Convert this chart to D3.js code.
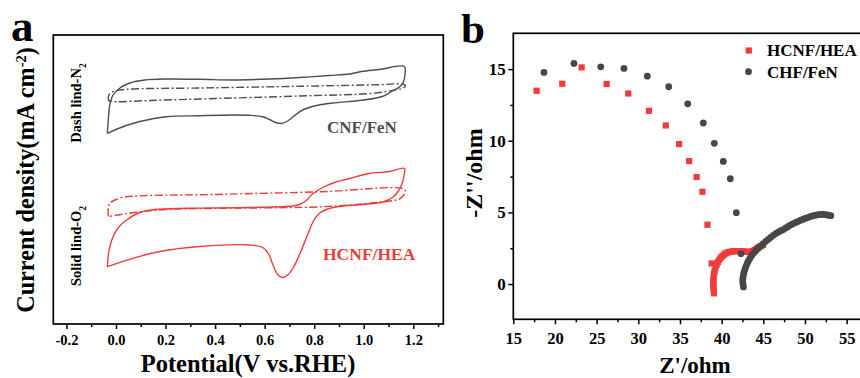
<!DOCTYPE html>
<html><head><meta charset="utf-8">
<script src="https://cdn.jsdelivr.net/npm/d3@7/dist/d3.min.js"></script>
<style>
body{margin:0;background:#fff;}
svg{display:block;}
text{font-family:"Liberation Serif","Times New Roman",serif;font-weight:bold;}
</style></head>
<body><svg id="c" width="860" height="378"></svg>
<script>
// ---------- Panel a: CV curves (potential V vs. RHE, current density in arbitrary units) ----------
const cvTicks = [-0.2, 0.0, 0.2, 0.4, 0.6, 0.8, 1.0, 1.2];
const cvMinor = [-0.1, 0.1, 0.3, 0.5, 0.7, 0.9, 1.1, 1.3];
const cnfO2 = [[-0.035,19.07],[-0.031,20.4],[-0.025,21.9],[-0.012,22.9],[0.016,23.6],[0.056,24.1],[0.116,24.4],[0.204,24.5],[0.338,24.47],[0.471,24.4],[0.620,24.5],[0.741,24.65],[0.862,24.85],[0.942,25.0],[0.991,25.25],[1.063,25.45],[1.164,25.75],[1.166,24.9],[1.160,24.2],[1.144,23.7],[1.112,23.25],[1.075,22.75],[0.983,22.35],[0.874,22.1],[0.801,21.8],[0.753,21.4],[0.721,20.85],[0.693,20.3],[0.668,20.05],[0.644,20.15],[0.620,20.45],[0.592,20.73],[0.539,20.87],[0.471,20.9],[0.338,20.83],[0.204,20.73],[0.096,20.25],[0.036,19.8],[-0.035,19.07]];
const cnfN2 = [[-0.029,22.3],[-0.031,22.7],[-0.025,23.05],[-0.004,23.3],[0.044,23.47],[0.338,23.6],[0.741,23.77],[1.063,23.93],[1.156,24.0],[1.168,23.85],[1.160,23.6],[1.136,23.45],[1.035,23.07],[0.741,22.8],[0.338,22.5],[0.137,22.35],[0.003,22.23],[-0.029,22.3]];
const heaO2 = [[-0.035,5.73],[-0.029,7.2],[-0.017,8.4],[0.008,9.6],[0.043,10.4],[0.096,11.15],[0.157,11.45],[0.298,11.57],[0.539,11.65],[0.713,11.8],[0.741,11.95],[0.768,12.35],[0.793,13.0],[0.834,13.65],[0.882,14.15],[0.942,14.55],[1.023,15.05],[1.104,15.25],[1.164,15.55],[1.162,14.8],[1.157,14.2],[1.140,13.3],[1.116,12.65],[1.077,12.2],[0.995,11.95],[0.902,11.75],[0.854,11.5],[0.822,11.1],[0.797,10.3],[0.773,8.9],[0.745,7.2],[0.717,5.7],[0.693,4.9],[0.672,4.65],[0.652,4.95],[0.632,6.0],[0.616,7.0],[0.592,7.65],[0.539,7.9],[0.338,7.75],[0.177,7.25],[0.068,6.57],[-0.035,5.73]];
const heaN2 = [[-0.031,10.75],[-0.031,11.6],[-0.025,12.05],[0.000,12.45],[0.036,12.7],[0.432,12.97],[0.835,13.23],[1.157,13.55],[1.168,13.3],[1.160,12.85],[1.144,12.5],[1.050,12.15],[0.835,11.73],[0.432,11.57],[0.204,11.45],[0.076,11.15],[-0.004,10.85],[-0.031,10.75]];

// ---------- Panel b: Nyquist plots ----------
const eisXTicks = [15, 20, 25, 30, 35, 40, 45, 50, 55];
const eisXMinor = [17.5, 22.5, 27.5, 32.5, 37.5, 42.5, 47.5, 52.5];
const eisYTicks = [0, 5, 10, 15];
const eisYMinor = [2.5, 7.5, 12.5];
const heaEIS = [[17.8,13.49],[20.88,13.98],[23.2,15.12],[26.2,13.96],[28.8,13.3],[31.28,12.09],[33.3,11.07],[34.9,9.77],[36.1,8.58],[37.0,7.47],[37.7,6.44],[38.3,4.14],[38.8,1.44],
 [39.08,-0.65],[39.05,-0.45],[39.02,-0.25],[39.0,-0.05],[39.0,0.15],[39.02,0.35],[39.05,0.55],[39.1,0.75],[39.17,0.95],[39.27,1.15],[39.4,1.35],[39.55,1.53],[39.72,1.7],[39.9,1.84],[40.1,1.96],[40.3,2.06],[40.5,2.14],[40.72,2.2],[40.95,2.24],[41.2,2.27],[41.45,2.29],[41.7,2.3],[41.95,2.3],[42.2,2.3],[42.45,2.29],[42.7,2.27],[42.95,2.25],[43.2,2.24],[43.45,2.25],[43.7,2.3],[43.95,2.38],[44.2,2.48],[44.45,2.58],[44.7,2.65],[44.95,2.72]];
const fenEIS = [[18.68,14.77],[22.28,15.4],[25.49,15.16],[28.28,15.05],[31.08,14.51],[33.65,13.77],[35.93,12.58],[37.8,11.24],[39.12,9.82],[40.2,8.56],[41.04,7.35],[41.76,4.98],[42.32,2.12],
 [42.62,-0.2],[42.56,0.0],[42.53,0.2],[42.55,0.4],[42.6,0.6],[42.68,0.8],[42.78,1.0],[42.9,1.2],[43.05,1.42],[43.2,1.6],[43.4,1.8],[43.6,1.98],[43.85,2.17],[44.1,2.33],[44.4,2.5],[44.7,2.66],[45.0,2.82],[45.3,2.98],[45.6,3.12],[45.9,3.26],[46.2,3.4],[46.5,3.52],[46.8,3.63],[47.1,3.72],[47.4,3.8],[47.7,3.92],[48.0,4.02],[48.3,4.13],[48.6,4.22],[48.9,4.3],[49.2,4.38],[49.5,4.46],[49.8,4.53],[50.1,4.6],[50.4,4.66],[50.7,4.72],[51.0,4.77],[51.3,4.81],[51.6,4.84],[51.9,4.86],[52.2,4.86],[52.5,4.84],[52.8,4.8],[53.1,4.77]];

const RED = "#ef3b3b", GREY = "#4e4e4e", GREYM = "#474747";
const svg = d3.select("#c");

// ===== Panel a =====
const ax = d3.scaleLinear().domain([-0.253, 1.321]).range([53.3, 443.3]);
const ay = d3.scaleLinear().domain([0, 28.9]).range([324, 35]);
const ga = svg.append("g");
ga.append("rect").attr("x",53.3).attr("y",35).attr("width",390).attr("height",289)
  .attr("fill","none").attr("stroke","#000").attr("stroke-width",1.7);
const line = d3.line().x(d=>ax(d[0])).y(d=>ay(d[1])).curve(d3.curveCatmullRom.alpha(0.5));
const dash = "8,2.5,2,2.5";
ga.append("path").attr("d",line(cnfO2)).attr("fill","none").attr("stroke",GREY).attr("stroke-width",1.4);
ga.append("path").attr("d",line(cnfN2)).attr("fill","none").attr("stroke",GREY).attr("stroke-width",1.4).attr("stroke-dasharray",dash);
ga.append("path").attr("d",line(heaO2)).attr("fill","none").attr("stroke",RED).attr("stroke-width",1.4);
ga.append("path").attr("d",line(heaN2)).attr("fill","none").attr("stroke",RED).attr("stroke-width",1.4).attr("stroke-dasharray",dash);

const axA = ga.append("g").attr("transform","translate(0,324)")
  .call(d3.axisBottom(ax).tickValues(cvTicks).tickFormat(d=>d.toFixed(1)).tickSize(5).tickPadding(6.2));
axA.select(".domain").remove();
axA.selectAll("line").attr("stroke-width",1.5);
axA.selectAll("text").attr("font-size",14.5).attr("fill","#000")
  .style("font-family","'Liberation Serif','Times New Roman',serif").style("font-weight","bold");
const axAm = ga.append("g").attr("transform","translate(0,324)")
  .call(d3.axisBottom(ax).tickValues(cvMinor).tickFormat("").tickSize(3));
axAm.select(".domain").remove();
axAm.selectAll("line").attr("stroke-width",1.5);

ga.append("text").attr("x",248).attr("y",371.5).attr("text-anchor","middle").attr("font-size",24.5).text("Potential(V vs.RHE)");
const yt = ga.append("text").attr("transform","translate(33.5,180) rotate(-90)").attr("text-anchor","middle").attr("font-size",24.2);
yt.append("tspan").text("Current density(mA cm");
yt.append("tspan").attr("font-size",14.5).attr("baseline-shift","super").text("-2");
yt.append("tspan").text(")");
const t1 = ga.append("text").attr("transform","translate(80.5,103) rotate(-90)").attr("text-anchor","middle").attr("font-size",14.5);
t1.append("tspan").text("Dash lind-N");
t1.append("tspan").attr("font-size",9.5).attr("baseline-shift","sub").text("2");
const t2 = ga.append("text").attr("transform","translate(80.5,246) rotate(-90)").attr("text-anchor","middle").attr("font-size",14.5);
t2.append("tspan").text("Solid lind-O");
t2.append("tspan").attr("font-size",9.5).attr("baseline-shift","sub").text("2");
ga.append("text").attr("x",327).attr("y",133).attr("font-size",17).attr("fill",GREY).text("CNF/FeN");
ga.append("text").attr("x",323).attr("y",260).attr("font-size",17.5).attr("fill",RED).text("HCNF/HEA");
ga.append("text").attr("x",11).attr("y",41).attr("font-size",45).text("a");

// ===== Panel b =====
const bx = d3.scaleLinear().domain([15, 57]).range([513.3, 863.3]);
const by = d3.scaleLinear().domain([-2.46, 17.5]).range([319.3, 33.3]);
const gb = svg.append("g");
gb.append("rect").attr("x",513.3).attr("y",33.3).attr("width",360).attr("height",286)
  .attr("fill","none").attr("stroke","#000").attr("stroke-width",1.7);

gb.selectAll("rect.sq").data(heaEIS).join("rect").attr("class","sq")
  .attr("x",d=>bx(d[0])-3.1).attr("y",d=>by(d[1])-3.1).attr("width",6.2).attr("height",6.2).attr("fill",RED);
gb.selectAll("circle.ci").data(fenEIS).join("circle").attr("class","ci")
  .attr("cx",d=>bx(d[0])).attr("cy",d=>by(d[1])).attr("r",3.4).attr("fill",GREYM);

const bxA = gb.append("g").attr("transform","translate(0,319.3)")
  .call(d3.axisBottom(bx).tickValues(eisXTicks).tickSize(5).tickPadding(7.6));
bxA.select(".domain").remove();
bxA.selectAll("line").attr("stroke-width",1.5);
bxA.selectAll("text").attr("font-size",16.5).attr("fill","#000")
  .style("font-family","'Liberation Serif','Times New Roman',serif").style("font-weight","bold");
const bxAm = gb.append("g").attr("transform","translate(0,319.3)")
  .call(d3.axisBottom(bx).tickValues(eisXMinor).tickFormat("").tickSize(3));
bxAm.select(".domain").remove();
bxAm.selectAll("line").attr("stroke-width",1.5);

const byA = gb.append("g").attr("transform","translate(513.3,0)")
  .call(d3.axisLeft(by).tickValues(eisYTicks).tickSize(5).tickPadding(2.5));
byA.select(".domain").remove();
byA.selectAll("line").attr("stroke-width",1.5);
byA.selectAll("text").attr("font-size",17).attr("fill","#000")
  .style("font-family","'Liberation Serif','Times New Roman',serif").style("font-weight","bold");
const byAm = gb.append("g").attr("transform","translate(513.3,0)")
  .call(d3.axisLeft(by).tickValues(eisYMinor).tickFormat("").tickSize(3));
byAm.select(".domain").remove();
byAm.selectAll("line").attr("stroke-width",1.5);

gb.append("text").attr("x",695).attr("y",373).attr("text-anchor","middle").attr("font-size",23).text("Z'/ohm");
gb.append("text").attr("transform","translate(482,173) rotate(-90)").attr("text-anchor","middle").attr("font-size",24).text("-Z''/ohm");
gb.append("text").attr("x",461).attr("y",43).attr("font-size",43).text("b");

// legend
gb.append("rect").attr("x",745.7).attr("y",47.4).attr("width",6.2).attr("height",6.2).attr("fill",RED);
gb.append("text").attr("x",767).attr("y",55.5).attr("font-size",17).text("HCNF/HEA");
gb.append("circle").attr("cx",748.5).attr("cy",71.7).attr("r",3.4).attr("fill",GREYM);
gb.append("text").attr("x",767).attr("y",77.5).attr("font-size",17).text("CHF/FeN");
</script></body></html>
